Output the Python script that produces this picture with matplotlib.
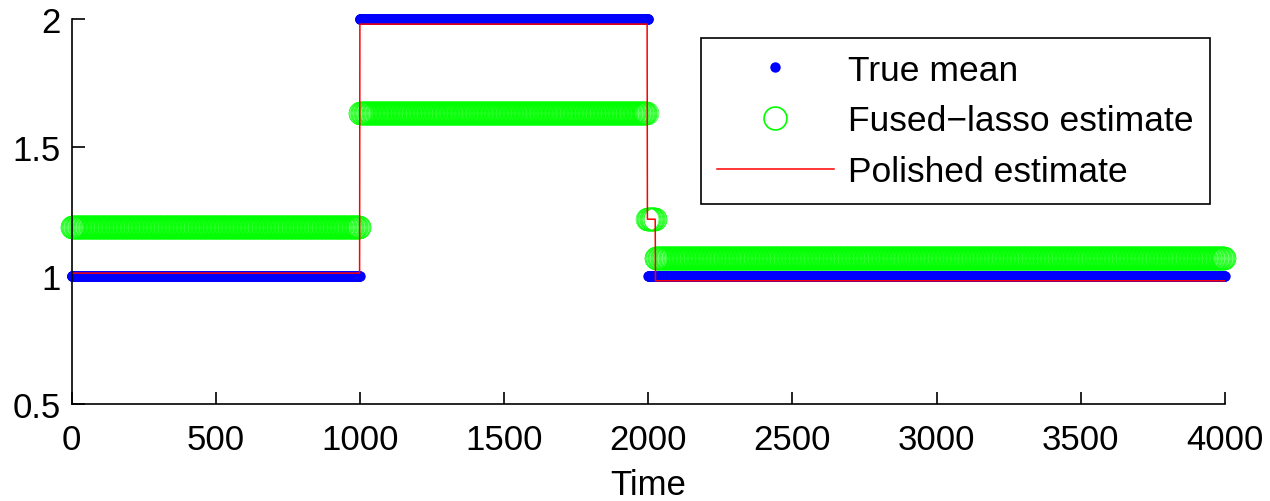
import numpy as np
import matplotlib
matplotlib.use("Agg")
import matplotlib.pyplot as plt

# ---------------------------------------------------------------------
# DATA (piecewise-constant segments)
# ---------------------------------------------------------------------
N_TIME = 4000

true_len = [1000, 1000, 2000]
true_lvl = [1.0, 2.0, 1.0]

fused_len = [1000, 995, 30, 1975]
fused_lvl = [1.19, 1.635, 1.22, 1.07]

polish_len = [1000, 997, 28, 1975]
polish_lvl = [1.01, 1.98, 1.22, 0.98]

x_ticks = [0, 500, 1000, 1500, 2000, 2500, 3000, 3500, 4000]
y_ticks = [0.5, 1, 1.5, 2]
y_tick_labels = ["0.5", "1", "1.5", "2"]


def expand(lengths, levels):
    return np.repeat(levels, lengths)


t = np.arange(N_TIME)
true_mean = expand(true_len, true_lvl)
fused = expand(fused_len, fused_lvl)
polished = expand(polish_len, polish_lvl)

# ---------------------------------------------------------------------
# PLOT
# ---------------------------------------------------------------------
plt.rcParams["font.family"] = ["Liberation Sans", "DejaVu Sans"]

fig = plt.figure(figsize=(12.7, 5.02), dpi=100)
ax = fig.add_axes([0.0563, 0.1932, 0.9083, 0.767])

ax.plot(t, true_mean, "o", color="#0000ff", ms=7.5, mew=0,
        clip_on=False, label="True mean")
ax.plot(t, fused, "o", mfc="none", mec="#00ff00", ms=16.5, mew=0.4,
        markevery=2, clip_on=False, label="Fused\u2212lasso estimate")
ax.plot(t, polished, "-", color="#ff0000", lw=1.1, label="Polished estimate")

ax.set_xlim(0, 4000)
ax.set_ylim(0.5, 2)
ax.set_xticks(x_ticks)
ax.set_yticks(y_ticks)
ax.set_yticklabels(y_tick_labels)
ax.set_xlabel("Time", fontsize=25, labelpad=8)

for side in ["top", "right"]:
    ax.spines[side].set_visible(False)
for side in ["left", "bottom"]:
    ax.spines[side].set_linewidth(1.2)
ax.tick_params(direction="in", length=9, width=1.2, labelsize=25)
ax.tick_params(axis="x", pad=14)
ax.tick_params(axis="y", pad=8)

leg = ax.legend(loc="upper right", bbox_to_anchor=(0.987, 0.951),
                borderaxespad=0, fontsize=25.5, fancybox=False,
                edgecolor="black", framealpha=1, handlelength=3.3,
                handletextpad=0.42, labelspacing=0.5, borderpad=0.45,
                numpoints=1, markerscale=1.0)
leg.get_frame().set_linewidth(1.2)
leg.legend_handles[1].set_markeredgewidth(1.2)

fig.savefig("out.png", dpi=100)
